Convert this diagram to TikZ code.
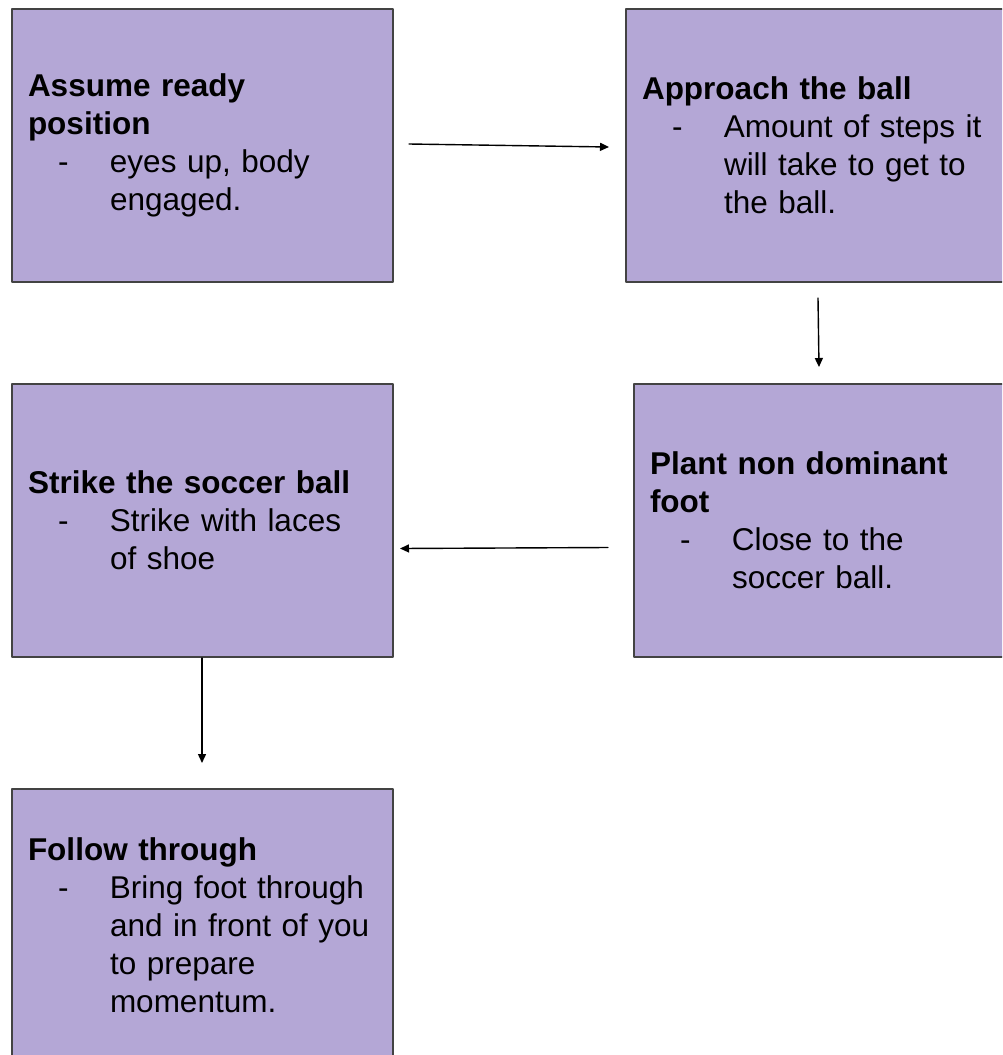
\documentclass[tikz,border=0pt]{standalone}
\usepackage{fontspec}
\setmainfont{Liberation Sans}
\usetikzlibrary{arrows.meta}
\definecolor{cardfill}{HTML}{B4A7D6}
\definecolor{cardline}{HTML}{434343}
\newcommand{\dashitem}{\hspace*{30pt}\makebox[52pt][l]{-}}
\newcommand{\itemrest}{\hspace*{82pt}}
\begin{document}
\begin{tikzpicture}[x=1pt,y=-1pt,line cap=round,line join=round,>={Triangle[length=9pt,width=8pt]},
  card/.style={draw=cardline,line width=2pt,fill=cardfill,anchor=north west,
    minimum width=381pt,minimum height=273pt,inner xsep=16pt,text width=349pt,
    align=left,font=\fontsize{31.5}{38}\selectfont},
  flow/.style={->,line width=1.4pt}]
\useasboundingbox (0,0) rectangle (1002,1055);
\clip (0,0) rectangle (1002,1055);
\node[card] (ready) at (11,8) {{\bfseries Assume ready\\position}\\
  \dashitem eyes up, body\\\itemrest engaged.};
\node[card] (approach) at (625,8) {{\bfseries Approach the ball}\\
  \dashitem Amount of steps it\\\itemrest will take to get to\\\itemrest the ball.};
\node[card] (plant) at (633,383) {{\bfseries Plant non dominant\\foot}\\
  \dashitem Close to the\\\itemrest soccer ball.};
\node[card] (strike) at (11,383) {{\bfseries Strike the soccer ball}\\
  \dashitem Strike with laces\\\itemrest of shoe};
\node[card] (follow) at (11,788) {{\bfseries Follow through}\\
  \dashitem Bring foot through\\\itemrest and in front of you\\\itemrest to prepare\\\itemrest momentum.};
\draw[flow] ([shift={(15,-1.5)}]ready.east) -- ([shift={(-16,1.5)}]approach.west);
\draw[flow] ([shift={(1.5,15)}]approach.south) -- ([shift={(-5.5,-16)}]plant.north);
\draw[flow] ([shift={(-25,27)}]plant.west) -- ([shift={(6,28)}]strike.east);
\draw[flow] ([shift={(-0.5,0)}]strike.south) -- ([shift={(-0.5,-25)}]follow.north);
\end{tikzpicture}
\end{document}
